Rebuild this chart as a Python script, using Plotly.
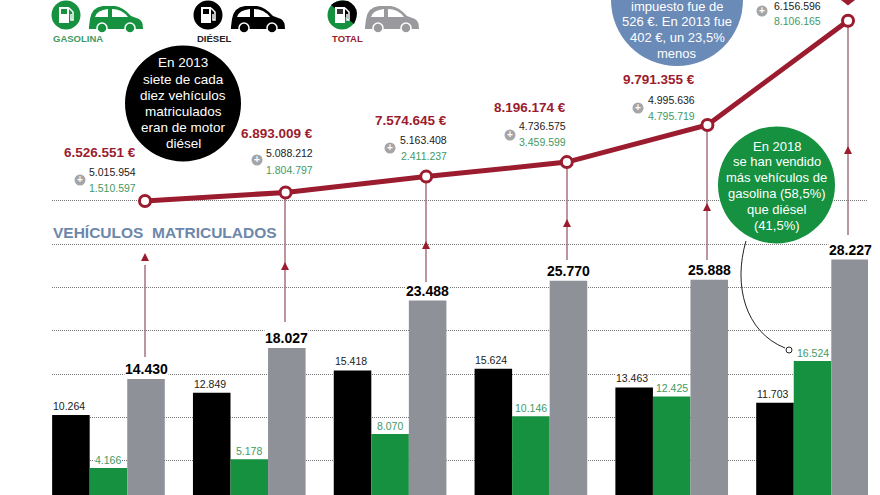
import plotly.graph_objects as go

# data
years = [2013, 2014, 2015, 2016, 2017, 2018]
diesel_cars = [10264, 12849, 15418, 15624, 13463, 11703]
petrol_cars = [4166, 5178, 8070, 10146, 12425, 16524]
total_cars = [14430, 18027, 23488, 25770, 25888, 28227]
total_tax = [6526551, 6893009, 7574645, 8196174, 9791355, 14262761]
diesel_tax = [5015954, 5088212, 5163408, 4736575, 4995636, 6156596]
petrol_tax = [1510597, 1804797, 2411237, 3459599, 4795719, 8106165]

RED = '#9b1c2e'
STEM = '#a9707c'
GREEN = '#15913f'
GREEN_TXT = '#3f9a64'
GRAY = '#8e9197'
SANS = 'Liberation Sans'

W, H = 880, 495
LEFT, RIGHT = 52, 868


def px(x, y):
    return (x - LEFT) / (RIGHT - LEFT), 1 - y / H


def es(n):
    return f'{n:,}'.replace(',', '.')


def path(points):
    # points: list of svg commands with pixel coords -> paper coords
    out = []
    for cmd in points:
        letter, *nums = cmd
        pairs = [px(nums[i], nums[i + 1]) for i in range(0, len(nums), 2)]
        out.append(letter + ' ' + ' '.join(f'{a:.5f},{b:.5f}' for a, b in pairs))
    return ' '.join(out)


fig = go.Figure()

for vals, color, name in [(diesel_cars, 'black', 'Diésel'),
                          (petrol_cars, GREEN, 'Gasolina'),
                          (total_cars, GRAY, 'Total')]:
    fig.add_trace(go.Bar(x=years, y=vals, name=name, marker_color=color, marker_line_width=0))

fig.add_trace(go.Scatter(x=years, y=total_tax, xaxis='x2', yaxis='y2', mode='lines+markers',
                         line=dict(color=RED, width=5),
                         marker=dict(size=11, color='white', line=dict(color=RED, width=3)),
                         cliponaxis=False))


def circle(cx, cy, r, color, line=None, width=0, layer='above'):
    x0, y0 = px(cx - r, cy + r)
    x1, y1 = px(cx + r, cy - r)
    fig.add_shape(type='circle', xref='paper', yref='paper', x0=x0, y0=y0, x1=x1, y1=y1,
                  fillcolor=color, line=dict(color=line or color, width=width), layer=layer)


def svg(cmds, fill=None, line=None, width=0, layer='above'):
    fig.add_shape(type='path', xref='paper', yref='paper', path=path(cmds),
                  fillcolor=fill or 'rgba(0,0,0,0)',
                  line=dict(color=line or 'rgba(0,0,0,0)', width=width), layer=layer)


def text(x, y, s, size, color, anchor='center', bold=False):
    ax, ay = px(x, y)
    fig.add_annotation(xref='paper', yref='paper', x=ax, y=ay, xanchor=anchor, yanchor='middle',
                       text=f'<b>{s}</b>' if bold else s, showarrow=False, align='center',
                       font=dict(family=SANS, size=size, color=color), borderpad=0)


def car(x, y, color):
    svg([('M', x, y + 22), ('L', x + 1, y + 14), ('Q', x + 3, y + 2, x + 14, y + 1),
         ('L', x + 26, y + 1), ('Q', x + 34, y + 2, x + 42, y + 11), ('L', x + 50, y + 14),
         ('Q', x + 54, y + 16, x + 54, y + 24), ('L', x, y + 24), ('Z',)], fill=color)
    svg([('M', x + 6, y + 12), ('Q', x + 8, y + 5, x + 19, y + 4), ('L', x + 19, y + 12), ('Z',)], fill='white')
    svg([('M', x + 23, y + 4), ('Q', x + 33, y + 4, x + 39, y + 12), ('L', x + 23, y + 12), ('Z',)], fill='white')
    for wx in (13, 41):
        circle(x + wx, y + 23, 5, color, line='white', width=1.5)


def pump(cx, cy, dark):
    svg([('M', cx - 7, cy + 8), ('L', cx - 7, cy - 8), ('L', cx + 3, cy - 8), ('L', cx + 3, cy + 8), ('Z',)], fill='white')
    svg([('M', cx - 5, cy - 1), ('L', cx - 5, cy - 6), ('L', cx + 1, cy - 6), ('L', cx + 1, cy - 1), ('Z',)], fill=dark)
    svg([('M', cx + 3, cy - 7), ('L', cx + 7, cy - 3), ('L', cx + 7, cy + 5), ('L', cx + 5, cy + 5), ('L', cx + 5, cy - 1)],
        line='white', width=1.5)


# legend
circle(66, 15, 14.5, GREEN)
pump(66, 15, GREEN)
car(89, 5, GREEN)
text(52, 39, 'GASOLINA', 9.5, GREEN_TXT, 'left', bold=True)
circle(208, 15, 14.5, 'black')
pump(208, 15, 'black')
car(231, 5, 'black')
text(196, 39, 'DIÉSEL', 9.5, '#222222', 'left', bold=True)
circle(342, 15, 14.5, GREEN)
svg([('M', 331, 5), ('L', 354, 24), ('Q', 362, 8, 348, 1), ('Q', 338, -1, 331, 5), ('Z',)], fill='black')
pump(342, 15, '#333333')
car(365, 5, '#9a9a9e')
text(331, 39, 'TOTAL', 9.5, RED, 'left', bold=True)

text(52, 233, 'VEHÍCULOS&nbsp;&nbsp;MATRICULADOS', 15.5, '#6d87aa', 'left', bold=True)

# stems between the bars and the line, with their little arrow heads
stems = [(145, 265, 357, 257), (285, 190, 322, 266), (426, 176, 282, 245),
         (567, 160, 260, 223), (707, 124, 260, 207), (848, 21, 235, 150)]
for x, top, bottom, head in stems:
    fig.add_shape(type='line', xref='paper', yref='paper', x0=px(x, top)[0], y0=px(x, top)[1],
                  x1=px(x, bottom)[0], y1=px(x, bottom)[1], line=dict(color=STEM, width=1.5), layer='below')
    svg([('M', x - 4, head + 4), ('L', x, head - 4), ('L', x + 4, head + 4), ('Z',)], fill=RED)

# bit of the cropped marker above the last point
svg([('M', 841, 0), ('L', 848, 5.5), ('L', 855, 0), ('L', 848, -5), ('Z',)], fill=RED)

# connector from the green bubble to the 2018 petrol bar
svg([('M', 746, 241), ('C', 733, 285, 745, 332, 785, 348)], line='#222222', width=1)
circle(789, 350, 3, 'white', line='#222222', width=1)

# bubbles
circle(183, 103.5, 58, 'black')
for y, s in zip([63, 79, 95, 111, 127, 143],
                ['En 2013', 'siete de cada', 'diez vehículos', 'matriculados', 'eran de motor', 'diésel']):
    text(183, y, s, 13.5, 'white')
circle(677, 0, 66, '#6a8ab8')
for y, s in zip([7, 21, 37, 53], ['impuesto fue de', '526 €. En 2013 fue', '402 €, un 23,5%', 'menos']):
    text(677, y, s, 13, 'white')
circle(776.5, 185, 58.5, GREEN)
for y, s in zip([146, 161, 177, 193, 209, 225],
                ['En 2018', 'se han vendido', 'más vehículos de', 'gasolina (58,5%)', 'que diésel', '(41,5%)']):
    text(776.5, y, s, 13, 'white')

# tax labels: right edge, then y of the red, black and green rows, then the plus sign
tax_labels = [(137, 152, 172, 188, 80, 180), (314, 134, 153, 170, 257, 160),
              (448, 120, 140, 156, 390, 148), (567, 107, 126, 142, 510, 135),
              (696, 79, 100, 116, 638, 108), (822, None, 6, 21, 762, 11)]
for i, (right, yr, yd, yg, xp, yp) in enumerate(tax_labels):
    if yr is not None:
        text(right, yr, es(total_tax[i]) + ' €', 13.5, RED, 'right', bold=True)
    text(right, yd, es(diesel_tax[i]), 10.5, '#222222', 'right')
    text(right, yg, es(petrol_tax[i]), 10.5, GREEN_TXT, 'right')
    circle(xp, yp, 5.5, '#a3a5a9')
    text(xp, yp - 0.5, '+', 10, 'white', bold=True)

# bar labels sit on the bars through the data axes
BAR_STEP = 0.2667
for yr, d, p, t in zip(years, diesel_cars, petrol_cars, total_cars):
    fig.add_annotation(x=yr - BAR_STEP, y=d, text=es(d), showarrow=False, yanchor='bottom', yshift=2, xshift=-2,
                       font=dict(family=SANS, size=10.5, color='#222222'), bgcolor='white', borderpad=0)
    fig.add_annotation(x=yr, y=p, text=es(p), showarrow=False, yanchor='bottom', yshift=1,
                       font=dict(family=SANS, size=10.5, color=GREEN_TXT), bgcolor='white', borderpad=0)
    fig.add_annotation(x=yr + BAR_STEP, y=t, text=f'<b>{es(t)}</b>', showarrow=False, yanchor='bottom', yshift=1,
                       font=dict(family=SANS, size=14, color='black'), bgcolor='white', borderpad=0)

fig.update_layout(
    width=W, height=H, showlegend=False, barmode='group', bargap=0.2, bargroupgap=0,
    margin=dict(l=LEFT, r=W - RIGHT, t=0, b=0),
    paper_bgcolor='white', plot_bgcolor='white',
    xaxis=dict(range=[2012.599, 2018.394], visible=False),
    xaxis2=dict(range=[2012.3386, 2018.142], overlaying='x', visible=False),
    yaxis=dict(range=[1040, 58198], tickvals=[5000 * i for i in range(1, 8)], showgrid=True,
               griddash='1px,1px', gridcolor='#777777', gridwidth=1, showticklabels=False,
               zeroline=False, ticks=''),
    yaxis2=dict(range=[-6091475, 15153160], overlaying='y', visible=False),
)

# the page's default body margin would push the chart 8px in
fig.write_html('out.html', config=dict(displayModeBar=False), post_script="document.body.style.margin='0';")
